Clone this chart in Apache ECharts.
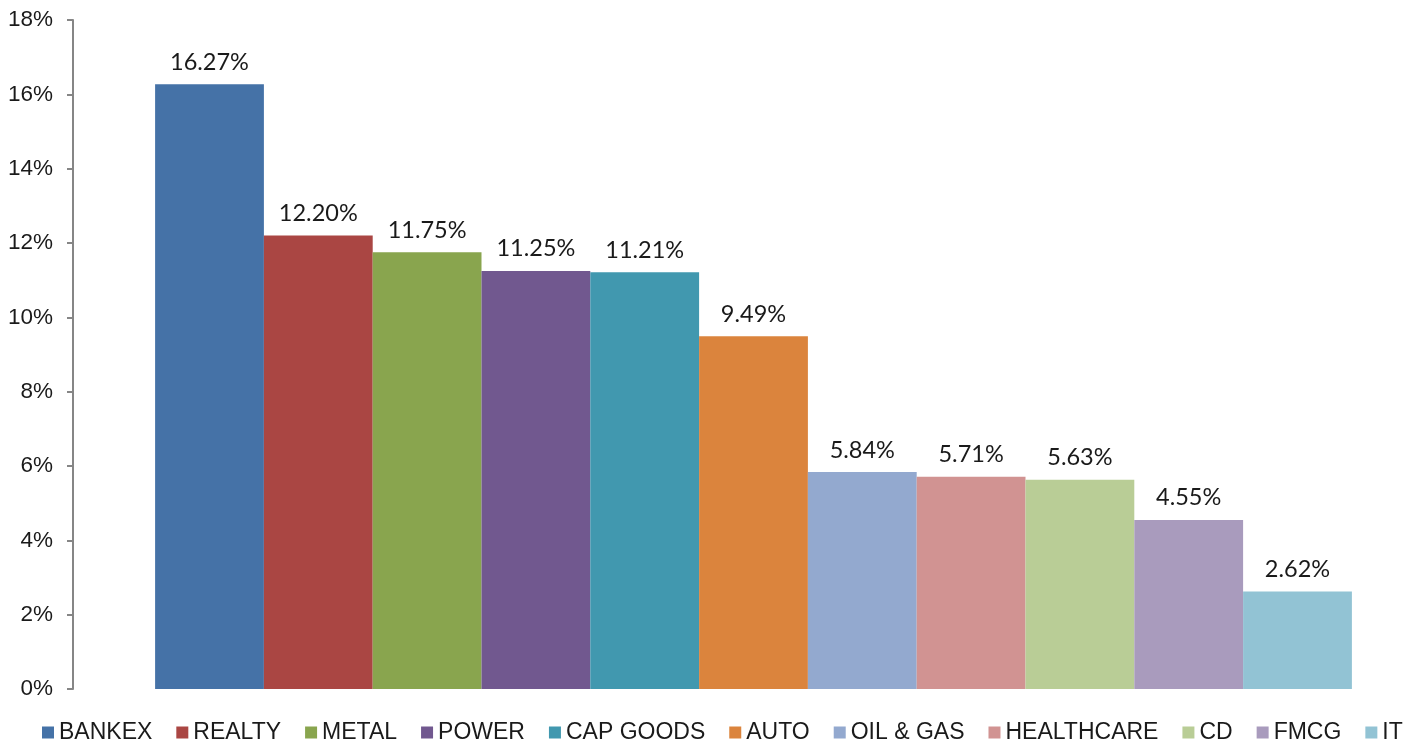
<!DOCTYPE html>
<html>
<head>
<meta charset="utf-8">
<script src="https://cdn.jsdelivr.net/npm/echarts@6/dist/echarts.min.js"></script>
<style>
html,body{margin:0;padding:0;background:#fff;}
#chart{width:1421px;height:743px;}
</style>
</head>
<body>
<div id="chart"></div>
<script>
const sectors = ['BANKEX','REALTY','METAL','POWER','CAP GOODS','AUTO','OIL & GAS','HEALTHCARE','CD','FMCG','IT'];
const returns = [16.27, 12.20, 11.75, 11.25, 11.21, 9.49, 5.84, 5.71, 5.63, 4.55, 2.62];
const colors = ['#4572A7','#AA4643','#89A54E','#71588F','#4198AF','#DB843D','#93A9CF','#D19392','#B9CD96','#A99BBD','#92C3D4'];
const yTicks = [0, 18, 2];

const chart = echarts.init(document.getElementById('chart'));
const series = sectors.map((name, i) => ({
  name: name,
  type: 'bar',
  data: [returns[i]],
  barWidth: 108.8,
  barGap: '0%',
  itemStyle: { color: colors[i] },
  label: {
    show: true,
    position: 'top',
    distance: 10,
    formatter: p => p.value.toFixed(2) + '%',
    color: '#1a1a1a',
    fontFamily: 'Lato, "Open Sans", sans-serif',
    fontSize: 23.5
  }
}));

chart.setOption({
  animation: false,
  color: colors,
  grid: { left: 87, top: 20, width: 1333, bottom: 54, containLabel: false },
  legend: {
    top: 716,
    left: 37,
    itemWidth: 12,
    itemHeight: 12,
    itemGap: 24,
    icon: 'rect',
    textStyle: { fontFamily: '"Liberation Sans", Arial, sans-serif', fontSize: 23, color: '#1a1a1a' },
    data: sectors
  },
  xAxis: {
    type: 'category',
    data: [''],
    axisLine: { show: false },
    axisTick: { show: false },
    axisLabel: { show: false }
  },
  yAxis: {
    type: 'value',
    min: yTicks[0],
    max: yTicks[1],
    interval: yTicks[2],
    offset: 14,
    axisLine: { show: true, lineStyle: { color: '#868686', width: 2 } },
    axisTick: { show: true, length: 6, lineStyle: { color: '#868686', width: 2 } },
    splitLine: { show: false },
    axisLabel: {
      formatter: '{value}%',
      margin: 20,
      fontFamily: '"Liberation Sans", Arial, sans-serif',
      fontSize: 22.5,
      color: '#1a1a1a'
    }
  },
  series: series
});
</script>
</body>
</html>
